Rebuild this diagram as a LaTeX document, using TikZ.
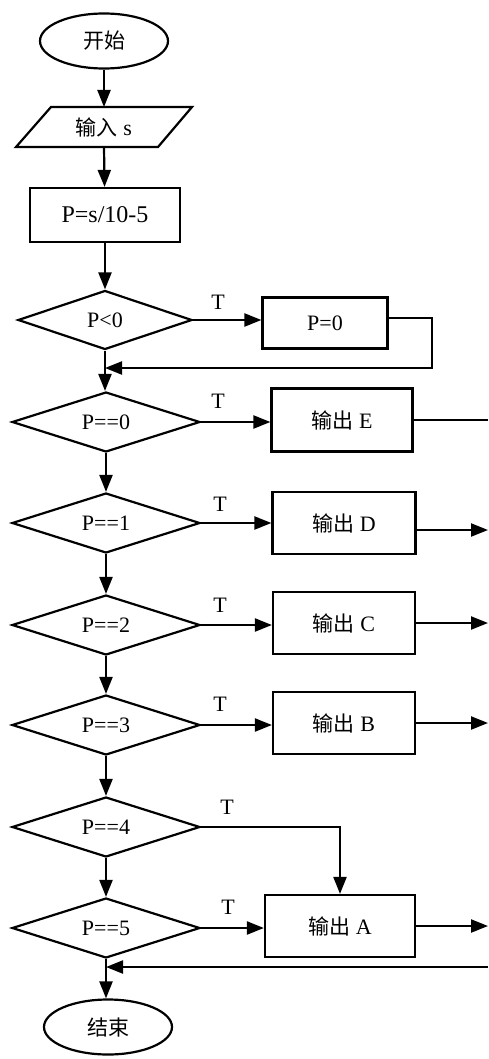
\documentclass[tikz,border=0pt]{standalone}
\usepackage{fontspec}
\setmainfont{Liberation Serif}
\newfontfamily\cjkf{Noto Sans CJK SC}
\usetikzlibrary{shapes.geometric,arrows.meta,calc}
\newcommand\zh[1]{{\cjkf\fontsize{21}{24}\selectfont #1}}
\begin{document}
\begin{tikzpicture}[x=1pt,y=-1pt,
  every node/.style={font=\fontsize{22}{25}\selectfont},
  line/.style={line width=2.2pt},
  arr/.style={line width=2.2pt,-{Triangle[length=17pt,width=13pt]}},
  box/.style={draw,line width=2.2pt,rectangle,inner sep=0pt},
  dec/.style={draw,line width=2.2pt,diamond,aspect=3,inner sep=0pt,minimum width=188pt,minimum height=60pt},
  term/.style={draw,line width=2.2pt,ellipse,inner sep=0pt,minimum width=128pt,minimum height=55pt},
  lab/.style={inner sep=0pt}]
\useasboundingbox (0,0) rectangle (488,1059);
% terminals
\node[term] (start) at (104,41) {\zh{开始}};
% input parallelogram
\node[lab] (inp) at (104,127) {\zh{输入} s};
\draw[line] (51,107) -- (192,107) -- (158,147) -- (16,147) -- cycle;
\coordinate (inpN) at (104,107);
\coordinate (inpS) at (104,147);
\node[box,minimum width=150pt,minimum height=54pt,font=\fontsize{24}{27}\selectfont] (calc) at (105,215) {P=s/10-5};
% decisions
\node[dec,minimum width=174pt,minimum height=59pt] (d0) at (105,320) {P\textless 0};
\node[box,minimum width=125pt,minimum height=51pt] (r0) at (325,323) {P=0};
\node[dec] (d1) at (106,422) {P==0};
\node[box,minimum width=141pt,minimum height=63pt] (bE) at (342,420) {\zh{输出} E};
\node[dec] (d2) at (106,523) {P==1};
\node[box,minimum width=143pt,minimum height=62pt] (bD) at (344,523) {\zh{输出} D};
\node[dec] (d3) at (106,625) {P==2};
\node[box,minimum width=142pt,minimum height=62pt] (bC) at (344,623) {\zh{输出} C};
\node[dec] (d4) at (106,725) {P==3};
\node[box,minimum width=142pt,minimum height=62pt] (bB) at (344,723) {\zh{输出} B};
\node[dec] (d5) at (106,827) {P==4};
\node[dec] (d6) at (106,928) {P==5};
\node[box,minimum width=150pt,minimum height=62pt] (bA) at (340,926) {\zh{输出} A};
\node[term] (end) at (108,1027) {\zh{结束}};
% T labels
\node[lab] (t0) at (218,302) {T};
\node[lab] (t1) at (218,401) {T};
\node[lab] (t2) at (220,504) {T};
\node[lab] (t3) at (220,605) {T};
\node[lab] (t4) at (220,704) {T};
\node[lab] (t5) at (227,807) {T};
\node[lab] (t6) at (228,907) {T};
% coordinates
\coordinate (j1) at (105,368);
\coordinate (c1) at (432,368);
\coordinate (j2) at (106,967);
\coordinate (eE) at (488,420);
\coordinate (eD) at (488,530);
\coordinate (eC) at (488,623);
\coordinate (eB) at (488,723);
\coordinate (eA) at (488,926);
\coordinate (rt) at (488,967);
% main spine
\draw[arr] (start) -- (inpN);
\draw[arr] (inpS) -- (calc);
\draw[arr] (calc) -- (d0);
\draw[arr] (d0.south) -- (d0.south |- d1.north);
\draw[arr] (d1) -- (d2);
\draw[arr] (d2) -- (d3);
\draw[arr] (d3) -- (d4);
\draw[arr] (d4) -- (d5);
\draw[arr] (d5) -- (d6);
\draw[arr] (d6.south) -- (d6.south |- end.north);
% branches
\draw[arr] (d0.east) -- (d0.east -| r0.west);
\draw[arr] (r0.east |- 0,318) -| (c1) -- (j1);
\draw[arr] (d1.east) -- (d1.east -| bE.west);
\draw[arr] (d2.east) -- (d2.east -| bD.west);
\draw[arr] (d3.east) -- (d3.east -| bC.west);
\draw[arr] (d4.east) -- (d4.east -| bB.west);
\draw[arr] (d5.east) -| (bA.north);
\draw[arr] (d6.east) -- (d6.east -| bA.west);
% right edge
\draw[line] (bE.east) -- (eE);
\draw[arr] (bD.east |- eD) -- (eD);
\draw[arr] (bC.east) -- (eC);
\draw[arr] (bB.east) -- (eB);
\draw[arr] (bA.east) -- (eA);
\draw[arr] (rt) -- (j2);
\end{tikzpicture}
\end{document}
